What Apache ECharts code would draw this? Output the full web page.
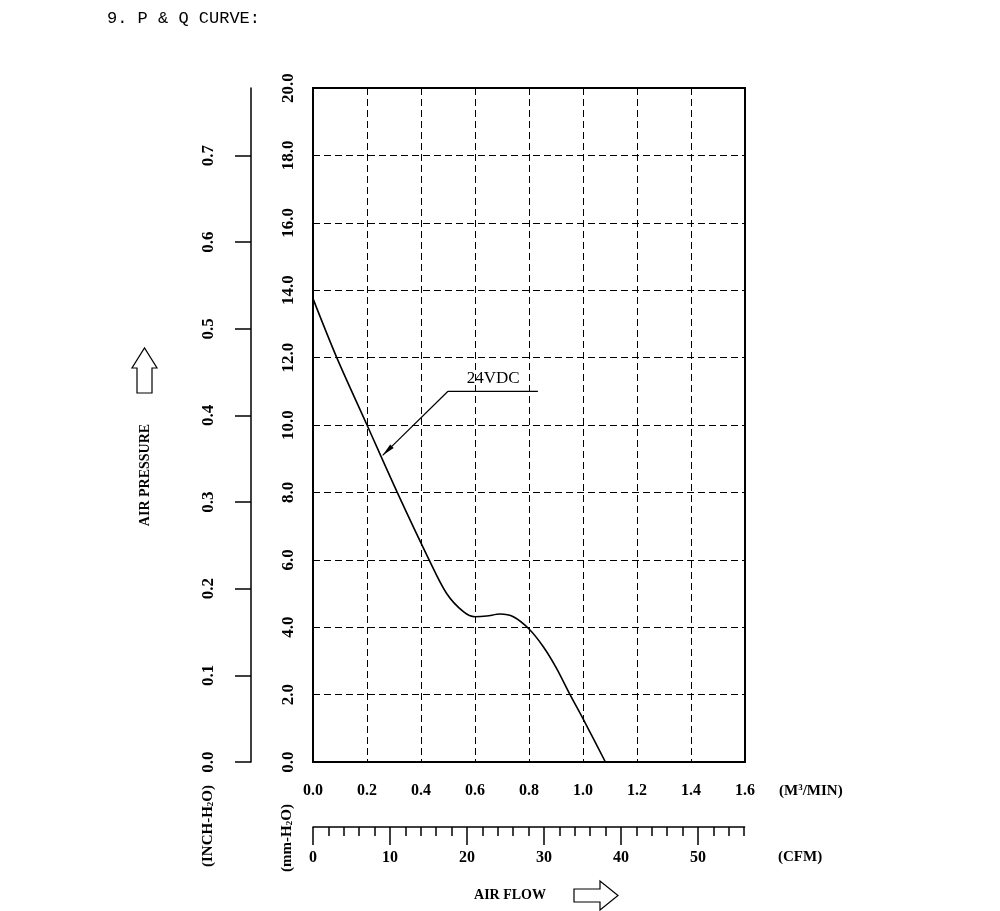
<!DOCTYPE html>
<html>
<head>
<meta charset="UTF-8">
<title>P & Q CURVE</title>
<script src="https://cdn.jsdelivr.net/npm/echarts@6/dist/echarts.min.js"></script>
<style>
  html, body { margin: 0; padding: 0; background: #fff; }
  #main { width: 1000px; height: 911px; }
</style>
</head>
<body>
<div id="main"></div>
<script>
// P-Q curve (air flow in m3/min, pressure in mm-H2O)
var flowM3 = [0, 0.088, 0.2, 0.312, 0.43, 0.495, 0.557, 0.6, 0.643, 0.693, 0.742, 0.801, 0.853, 0.902, 0.952, 0.999, 1.038, 1.083];
var pressMm = [13.75, 12.0, 10.0, 8.0, 6.0, 5.0, 4.46, 4.31, 4.33, 4.39, 4.31, 3.94, 3.42, 2.78, 2.0, 1.3, 0.7, 0.0];

// leader line for the "24VDC" label (end of line -> elbow -> arrow tip)
var leaderX = [0.833, 0.5, 0.258];
var leaderY = [11.0, 11.0, 9.1];
var curveName = '24VDC';

// secondary scales
var inchTicks = [0, 0.1, 0.2, 0.3, 0.4, 0.5, 0.6, 0.7];
var inchMax = 0.778;
var cfmTicks = [0, 10, 20, 30, 40, 50];
var cfmMax = 56.05;

var FONT = 'Liberation Serif';
var PLOT_W = 432, PLOT_H = 674;
var chart = echarts.init(document.getElementById('main'));

var curve = flowM3.map(function (x, i) { return [x, pressMm[i]]; });

// arrow direction on screen for the leader tip; pull the head back so its point sits on the tip
var ddx = (leaderX[2] - leaderX[1]) * PLOT_W / 1.6;
var ddy = (leaderY[2] - leaderY[1]) * PLOT_H / 20;
var arrowRot = Math.atan2(ddy, ddx) * 180 / Math.PI - 90;
var dlen = Math.sqrt(ddx * ddx + ddy * ddy);
var ARROW_L = 13;
var arrowOff = [-ddx / dlen * ARROW_L / 2, ddy / dlen * ARROW_L / 2];

var dashed = { color: '#000', width: 1, type: [7, 4] };
var lblStyle = { color: '#000', fontFamily: FONT, fontSize: 16, fontWeight: 'bold' };
var yLblStyle = { color: '#000', fontFamily: FONT, fontSize: 17, fontWeight: 'bold' };

chart.setOption({
  animation: false,
  grid: [
    { left: 313, top: 88, width: PLOT_W, height: PLOT_H, show: true, borderColor: '#000', borderWidth: 2 },
    { left: 251, top: 88, width: 10, height: PLOT_H },
    { left: 313, top: 826, width: 431.6, height: 1 }
  ],
  xAxis: [
    {
      gridIndex: 0, type: 'value', min: 0, max: 1.6, interval: 0.2,
      axisLine: { show: true, lineStyle: { color: '#000', width: 2 } },
      axisTick: { show: false },
      axisLabel: Object.assign({ margin: 21, formatter: function (v) { return v.toFixed(1); } }, lblStyle),
      splitLine: { show: true, lineStyle: dashed }
    },
    { gridIndex: 1, type: 'value', show: false },
    {
      gridIndex: 2, type: 'value', min: 0, max: cfmMax, interval: 10, position: 'bottom',
      axisLine: { show: true, lineStyle: { color: '#000', width: 1.5 } },
      axisTick: { show: true, length: 18, customValues: cfmTicks, lineStyle: { color: '#000', width: 1.5 } },
      minorTick: { show: true, splitNumber: 5, length: 9, lineStyle: { color: '#000', width: 1.5 } },
      axisLabel: Object.assign({ margin: 23, customValues: cfmTicks }, lblStyle),
      splitLine: { show: false }
    }
  ],
  yAxis: [
    {
      gridIndex: 0, type: 'value', min: 0, max: 20, interval: 2,
      axisLine: { show: true, lineStyle: { color: '#000', width: 2 } },
      axisTick: { show: false },
      axisLabel: Object.assign({ rotate: 90, margin: 16, formatter: function (v) { return v.toFixed(1); } }, yLblStyle),
      splitLine: { show: true, lineStyle: dashed }
    },
    {
      gridIndex: 1, type: 'value', min: 0, max: inchMax, position: 'left',
      axisLine: { show: true, lineStyle: { color: '#000', width: 1.5 } },
      axisTick: { show: true, length: 16, customValues: inchTicks, lineStyle: { color: '#000', width: 1.5 } },
      axisLabel: Object.assign({ rotate: 90, margin: 34, customValues: inchTicks,
        formatter: function (v) { return v.toFixed(1); } }, yLblStyle),
      splitLine: { show: false }
    },
    { gridIndex: 2, type: 'value', show: false }
  ],
  series: [
    {
      name: curveName, type: 'line', xAxisIndex: 0, yAxisIndex: 0,
      data: curve, smooth: 0.3, showSymbol: false,
      lineStyle: { color: '#000', width: 1.6 }
    },
    {
      // horizontal part of the leader, with the label above it
      type: 'line', xAxisIndex: 0, yAxisIndex: 0, showSymbol: false,
      data: [[leaderX[0], leaderY[0]], [leaderX[1], leaderY[1]]],
      lineStyle: { color: '#000', width: 1.2 },
      markPoint: {
        symbol: 'circle', symbolSize: 1, itemStyle: { color: 'rgba(0,0,0,0)' },
        label: { show: true, position: 'inside', formatter: curveName, color: '#000', fontFamily: FONT, fontSize: 17 },
        data: [{ coord: [0.667, 11.38] }]
      }
    },
    {
      // slanted part ending in an arrow on the curve
      type: 'line', xAxisIndex: 0, yAxisIndex: 0, showSymbol: true, symbol: 'none',
      data: [
        [leaderX[1], leaderY[1]],
        { value: [leaderX[2], leaderY[2]], symbol: 'triangle', symbolSize: [5, ARROW_L], symbolRotate: arrowRot,
          symbolOffset: arrowOff, itemStyle: { color: '#000' } }
      ],
      lineStyle: { color: '#000', width: 1.2 },
      itemStyle: { color: '#000' }
    }
  ],
  graphic: [
    { type: 'text', left: 107, top: 10, style: { text: '9. P & Q CURVE:', fill: '#000', font: '17px "Liberation Mono"' } },
    // AIR PRESSURE label + up arrow
    { type: 'text', x: 145, y: 475, rotation: Math.PI / 2,
      style: { text: 'AIR PRESSURE', fill: '#000', font: 'bold 14px "Liberation Serif"', align: 'center', verticalAlign: 'middle' } },
    { type: 'polygon', shape: { points: [[137, 393], [137, 368], [132, 368], [144.5, 348], [157, 368], [152, 368], [152, 393]] },
      style: { fill: 'none', stroke: '#000', lineWidth: 1.2 } },
    // AIR FLOW label + right arrow
    { type: 'text', x: 510, y: 895,
      style: { text: 'AIR FLOW', fill: '#000', font: 'bold 14px "Liberation Serif"', align: 'center', verticalAlign: 'middle' } },
    { type: 'polygon', shape: { points: [[574, 889], [600, 889], [600, 881], [618, 895.5], [600, 910], [600, 902], [574, 902]] },
      style: { fill: 'none', stroke: '#000', lineWidth: 1.2 } },
    // unit names
    { type: 'text', x: 779, y: 791,
      style: { text: '(M{sup|3}/MIN)', fill: '#000', font: 'bold 15px "Liberation Serif"', verticalAlign: 'middle',
        rich: { sup: { fontSize: 9, fontWeight: 'bold', fontFamily: FONT, verticalAlign: 'top', lineHeight: 9 } } } },
    { type: 'text', x: 778, y: 857,
      style: { text: '(CFM)', fill: '#000', font: 'bold 15px "Liberation Serif"', verticalAlign: 'middle' } },
    { type: 'text', x: 208, y: 826, rotation: Math.PI / 2,
      style: { text: '(INCH-H{sub|2}O)', fill: '#000', font: 'bold 15px "Liberation Serif"', align: 'center', verticalAlign: 'middle',
        rich: { sub: { fontSize: 9, fontWeight: 'bold', fontFamily: FONT, verticalAlign: 'bottom', lineHeight: 9 } } } },
    { type: 'text', x: 287, y: 838, rotation: Math.PI / 2,
      style: { text: '(mm-H{sub|2}O)', fill: '#000', font: 'bold 15px "Liberation Serif"', align: 'center', verticalAlign: 'middle',
        rich: { sub: { fontSize: 9, fontWeight: 'bold', fontFamily: FONT, verticalAlign: 'bottom', lineHeight: 9 } } } }
  ]
});
</script>
</body>
</html>
